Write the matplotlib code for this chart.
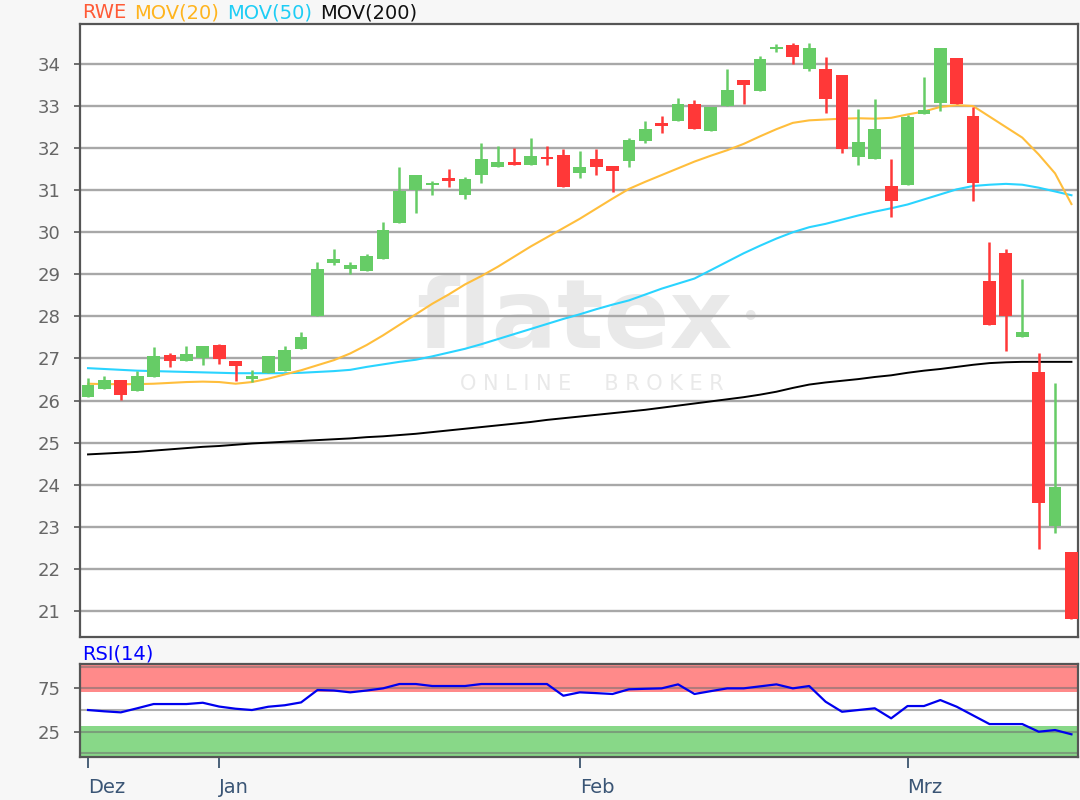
import numpy as np
import matplotlib
matplotlib.use("Agg")
import matplotlib.pyplot as plt

# ---------------- data ----------------
opens = [26.09, 26.28, 26.49, 26.23, 26.57, 27.08, 26.95, 27.00, 27.32, 26.93,
         26.51, 26.65, 26.70, 27.23, 28.00, 29.28, 29.13, 29.09, 29.37, 30.23,
         31.00, 31.12, 31.30, 30.89, 31.36, 31.56, 31.68, 31.60, 31.80, 31.84,
         31.42, 31.73, 31.58, 31.70, 32.18, 32.59, 32.65, 33.06, 32.41, 33.01,
         33.62, 33.36, 34.36, 34.45, 33.88, 33.87, 33.73, 31.80, 31.74, 31.11,
         31.12, 32.80, 33.08, 34.15, 32.77, 28.83, 29.50, 27.52, 26.69, 23.02,
         22.41]
highs = [26.54, 26.59, 26.49, 26.70, 27.27, 27.12, 27.30, 27.30, 27.35, 26.93,
         26.73, 27.07, 27.30, 27.64, 29.30, 29.60, 29.30, 29.48, 30.25, 31.54,
         31.35, 31.23, 31.50, 31.31, 32.12, 32.05, 32.01, 32.25, 32.06, 31.98,
         31.92, 31.98, 31.58, 32.25, 32.64, 32.76, 33.20, 33.14, 32.98, 33.87,
         33.62, 34.20, 34.47, 34.49, 34.49, 34.16, 33.73, 32.92, 33.16, 31.73,
         32.79, 33.69, 34.39, 34.15, 32.98, 29.78, 29.60, 28.88, 27.12, 26.41,
         22.41]
lows = [26.09, 26.28, 26.01, 26.23, 26.57, 26.79, 26.95, 26.85, 26.86, 26.47,
        26.43, 26.65, 26.70, 27.23, 28.00, 29.22, 29.01, 29.09, 29.37, 30.23,
        30.45, 30.89, 31.08, 30.78, 31.16, 31.56, 31.60, 31.60, 31.60, 31.08,
        31.28, 31.36, 30.96, 31.56, 32.11, 32.37, 32.65, 32.45, 32.41, 33.01,
        33.06, 33.36, 34.28, 34.01, 33.83, 32.83, 31.88, 31.60, 31.74, 30.37,
        31.12, 32.80, 32.88, 33.06, 30.74, 27.80, 27.18, 27.52, 22.47, 22.85,
        20.81]
closes = [26.37, 26.49, 26.13, 26.59, 27.07, 26.95, 27.11, 27.30, 26.99, 26.81,
          26.59, 27.07, 27.20, 27.50, 29.12, 29.36, 29.21, 29.44, 30.05, 30.99,
          31.35, 31.18, 31.22, 31.26, 31.73, 31.68, 31.60, 31.82, 31.73, 31.08,
          31.54, 31.56, 31.46, 32.20, 32.45, 32.53, 33.06, 32.45, 32.98, 33.38,
          33.50, 34.11, 34.39, 34.17, 34.39, 33.16, 31.98, 32.15, 32.45, 30.74,
          32.73, 32.91, 34.39, 33.06, 31.16, 27.80, 28.02, 27.64, 23.56, 23.94,
          20.81]

mov20 = [26.40, 26.39, 26.39, 26.39, 26.40, 26.42, 26.44, 26.45, 26.44, 26.40,
         26.44, 26.52, 26.62, 26.72, 26.84, 26.96, 27.12, 27.32, 27.55, 27.80,
         28.05, 28.30, 28.52, 28.76, 28.96, 29.18, 29.42, 29.66, 29.88, 30.10,
         30.32, 30.56, 30.80, 31.03, 31.20, 31.36, 31.52, 31.68, 31.82, 31.95,
         32.10, 32.28, 32.45, 32.60, 32.66, 32.68, 32.70, 32.71, 32.70, 32.72,
         32.80, 32.87, 32.98, 33.02, 33.00, 32.75, 32.50, 32.25, 31.85, 31.40,
         30.67]
mov50 = [26.77, 26.75, 26.73, 26.71, 26.70, 26.69, 26.68, 26.67, 26.66, 26.65,
         26.65, 26.65, 26.65, 26.66, 26.68, 26.70, 26.73, 26.80, 26.86, 26.92,
         26.97, 27.05, 27.14, 27.23, 27.34, 27.46, 27.58, 27.70, 27.82, 27.94,
         28.05, 28.17, 28.28, 28.38, 28.52, 28.66, 28.78, 28.90, 29.10, 29.30,
         29.50, 29.68, 29.85, 30.00, 30.12, 30.20, 30.30, 30.40, 30.49, 30.57,
         30.66, 30.78, 30.90, 31.02, 31.10, 31.13, 31.15, 31.13, 31.06, 30.97,
         30.88]
mov200 = [24.72, 24.74, 24.76, 24.78, 24.81, 24.84, 24.87, 24.90, 24.92, 24.95,
          24.98, 25.00, 25.02, 25.04, 25.06, 25.08, 25.10, 25.13, 25.15, 25.18,
          25.21, 25.25, 25.29, 25.33, 25.37, 25.41, 25.45, 25.49, 25.54, 25.58,
          25.62, 25.66, 25.70, 25.74, 25.78, 25.83, 25.88, 25.93, 25.98, 26.03,
          26.08, 26.14, 26.21, 26.30, 26.38, 26.43, 26.47, 26.51, 26.56, 26.60,
          26.66, 26.71, 26.75, 26.80, 26.85, 26.89, 26.91, 26.92, 26.92, 26.92,
          26.92]
rsi = [50.0, 48.5, 47.3, 52.0, 56.9, 56.9, 56.9, 58.4, 54.0, 51.5,
       50.0, 53.8, 55.5, 58.8, 73.1, 72.5, 70.4, 72.5, 75.0, 80.0,
       80.0, 77.7, 77.7, 77.7, 80.0, 80.0, 80.0, 80.0, 80.0, 66.5,
       70.4, 69.5, 68.5, 73.9, 74.5, 75.0, 79.6, 68.5, 71.8, 75.0,
       75.0, 77.3, 79.6, 75.0, 77.7, 59.6, 48.0, 50.0, 52.0, 40.4,
       54.6, 54.6, 61.5, 53.8, 43.8, 33.8, 33.8, 33.8, 25.0, 26.9,
       22.0]

month_labels = ["Dez", "Jan", "Feb", "Mrz"]
month_index = [0, 8, 30, 50]
price_ticks = list(range(21, 35))
rsi_ticks = [25, 75]

# ---------------- styling ----------------
GREEN = "#66cc66"
RED = "#ff3838"
C20 = "#ffbe3c"
C50 = "#2ad4ff"
C200 = "#000000"
GRID = "#a8a8a8"
FRAME = "#555555"
WM = "#e9e9e9"

plt.rcParams["font.family"] = ["DejaVu Sans"]

fig = plt.figure(figsize=(10.8, 8.0), dpi=100, facecolor="#f7f7f7")
ax = fig.add_axes([80 / 1080, 1 - 637 / 800, 998 / 1080, 613 / 800])
axr = fig.add_axes([80 / 1080, 1 - 757 / 800, 998 / 1080, 93 / 800])

n = len(closes)
x = np.arange(n)
o = np.array(opens)
c = np.array(closes)
h = np.array(highs)
l = np.array(lows)
up = c >= o
cols = np.where(up, GREEN, RED)

# watermark
ax.text(0.495, 0.4714, "flatex", transform=ax.transAxes, ha="center", va="baseline",
        fontsize=70, fontweight="bold", color=WM, zorder=0.5)
ax.text(0.672, 0.52, "\u2022", transform=ax.transAxes, ha="center", va="center",
        fontsize=24, color=WM, zorder=0.5)
ax.text(0.513, 0.412, "O N L I N E     B R O K E R", transform=ax.transAxes,
        ha="center", va="center", fontsize=15, color=WM, zorder=0.5)

# grid
for t in price_ticks:
    ax.axhline(t, color=GRID, lw=1.7, zorder=1)

# moving averages
ax.plot(x, mov200, color=C200, lw=1.4, zorder=2)
ax.plot(x, mov50, color=C50, lw=1.5, zorder=2)
ax.plot(x, mov20, color=C20, lw=1.5, zorder=2)

# candles
ax.vlines(x, l, h, colors=cols, lw=1.8, zorder=3)
body_lo = np.minimum(o, c)
body_h = np.maximum(np.abs(c - o), 0.05)
ax.bar(x, body_h, bottom=body_lo, width=0.78, color=cols, edgecolor="none", zorder=4)

ax.set_xlim(-0.49, 60.4)
ax.set_ylim(20.38, 34.95)
ax.set_yticks(price_ticks)
ax.set_yticklabels([str(t) for t in price_ticks])
ax.set_xticks([])
ax.tick_params(axis="y", length=4, width=1.2, color=FRAME, pad=10,
               labelsize=13, labelcolor="#666666")
for s in ax.spines.values():
    s.set_color(FRAME)
    s.set_linewidth(1.6)

# title line
fig.canvas.draw()
renderer = fig.canvas.get_renderer()
parts = [("RWE", "#ff5a36"), ("MOV(20)", "#ffb41e"), ("MOV(50)", "#1ecdf5"), ("MOV(200)", "#111111")]
xpix = 82
for txt, col in parts:
    t = fig.text(xpix / 1080, 1 - 13 / 800, txt, color=col, fontsize=14,
                 ha="left", va="center")
    bb = t.get_window_extent(renderer)
    xpix += bb.width + 8

# RSI panel
axr.axhspan(71, 102, color="#ff8a8a", zorder=1, lw=0)
axr.axhspan(-5, 32, color="#88d888", zorder=1, lw=0)
for lv in [0, 25, 50, 75, 100]:
    axr.axhline(lv, color="#707070", alpha=0.55, lw=1.5, zorder=2)
axr.plot(x, rsi, color="#0000ee", lw=1.6, zorder=3)
axr.set_xlim(-0.49, 60.4)
axr.set_ylim(-4.2, 103.1)
axr.set_yticks(rsi_ticks)
axr.set_yticklabels([str(t) for t in rsi_ticks])
axr.set_xticks(month_index)
axr.set_xticklabels(month_labels)
for lab in axr.get_xticklabels():
    lab.set_horizontalalignment("left")
axr.tick_params(axis="y", length=4, width=1.2, color=FRAME, pad=10,
                labelsize=13, labelcolor="#666666")
axr.tick_params(axis="x", length=8, width=1.4, color="#4a6078", pad=7,
                labelsize=14, labelcolor="#3a5575")
for s in axr.spines.values():
    s.set_color(FRAME)
    s.set_linewidth(1.6)
fig.text(82 / 1080, 1 - 654 / 800, "RSI(14)", color="#0000ff", fontsize=14,
         ha="left", va="center")

fig.savefig("out.png", dpi=100, facecolor=fig.get_facecolor())
